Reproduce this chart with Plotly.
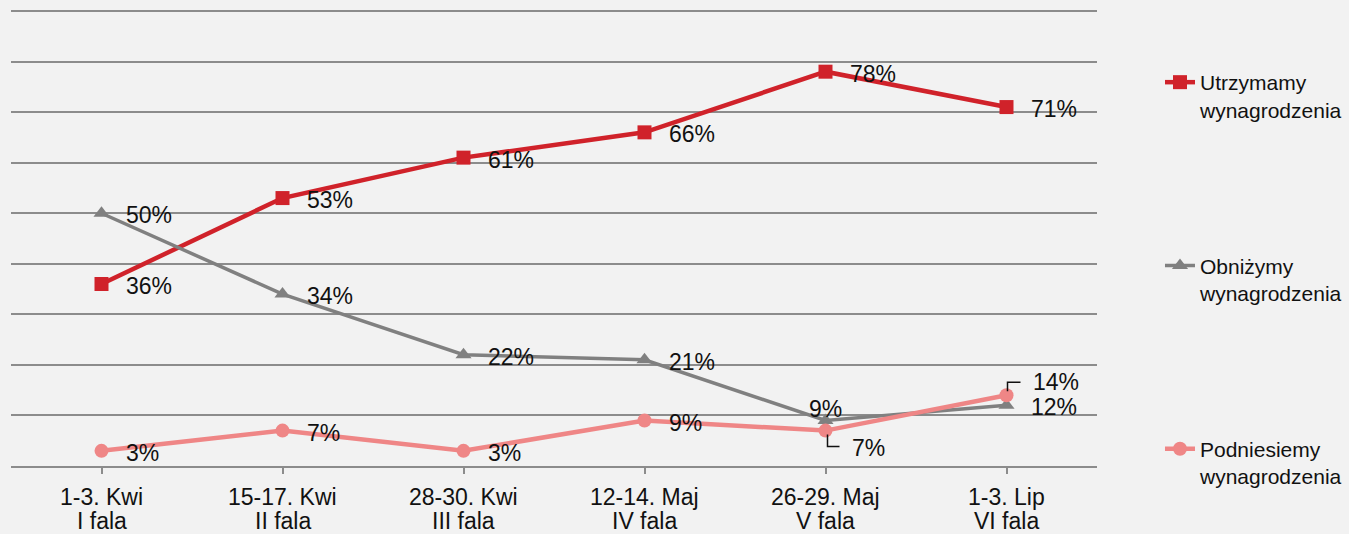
import plotly.graph_objects as go

tick_line1 = ["1-3. Kwi", "15-17. Kwi", "28-30. Kwi", "12-14. Maj", "26-29. Maj", "1-3. Lip"]
tick_line2 = ["I fala", "II fala", "III fala", "IV fala", "V fala", "VI fala"]
utrzymamy = [36, 53, 61, 66, 78, 71]
obnizymy = [50, 34, 22, 21, 9, 12]
podniesiemy = [3, 7, 3, 9, 7, 14]

names = ["Utrzymamy<br>wynagrodzenia", "Obniżymy<br>wynagrodzenia", "Podniesiemy<br>wynagrodzenia"]
series = [utrzymamy, obnizymy, podniesiemy]
colors = ["#d0222a", "#808080", "#ef8686"]
symbols = ["square", "triangle-up", "circle"]
widths = [4.5, 3.5, 4.5]
legends = ["legend", "legend2", "legend3"]

FONT = "Liberation Sans, Arial, sans-serif"
TXT = "#111111"
fig = go.Figure()
x_idx = list(range(len(tick_line1)))
for s, n, c, sym, w, lg in zip(series, names, colors, symbols, widths, legends):
    fig.add_trace(go.Scatter(x=x_idx, y=s, name=n, mode="lines+markers",
                             line=dict(color=c, width=w),
                             marker=dict(symbol=sym, size=14, color=c),
                             legend=lg, showlegend=True))

# special label offsets (series index, point index) -> (xshift, yshift, xanchor)
special = {(1, 4): (0, 12, "center"), (2, 4): (24, -17, "left"), (2, 5): (24, 13, "left")}
annotations = []
for si, s in enumerate(series):
    for i, v in enumerate(s):
        xs, ys, xa = special.get((si, i), (22, -2, "left"))
        annotations.append(dict(x=i, y=v, xref="x", yref="y", text=f"{v}%", showarrow=False,
                                xanchor=xa, yanchor="middle", xshift=xs, yshift=ys,
                                font=dict(size=23, color=TXT, family=FONT)))
for i, (l1, l2) in enumerate(zip(tick_line1, tick_line2)):
    for txt, ys in ((l1, -31), (l2, -55)):
        annotations.append(dict(x=i, y=0, xref="x", yref="paper", text=txt, showarrow=False,
                                xanchor="center", yanchor="middle", yshift=ys,
                                font=dict(size=23, color=TXT, family=FONT)))

shapes = [
    dict(type="path", xref="x", yref="y", xsizemode="pixel", ysizemode="pixel",
         xanchor=4, yanchor=podniesiemy[4], path="M2,-4 L2,-16 L14,-16",
         line=dict(color=TXT, width=1.5)),
    dict(type="path", xref="x", yref="y", xsizemode="pixel", ysizemode="pixel",
         xanchor=5, yanchor=podniesiemy[5], path="M1,4 L1,13 L14,13",
         line=dict(color=TXT, width=1.5)),
]

legend_common = dict(bgcolor="rgba(0,0,0,0)", font=dict(size=21, color=TXT, family=FONT),
                     xanchor="left", yanchor="top", valign="top", x=1.058)
fig.update_layout(
    width=1349, height=534, showlegend=True,
    margin=dict(l=11, r=252, t=9, b=68, autoexpand=False),
    paper_bgcolor="#f2f2f2", plot_bgcolor="#f2f2f2",
    font=dict(family=FONT, color=TXT),
    annotations=annotations, shapes=shapes,
    legend=dict(y=0.884, **legend_common),
    legend2=dict(y=0.483, **legend_common),
    legend3=dict(y=0.082, **legend_common),
    xaxis=dict(tickmode="array", tickvals=x_idx, range=[-0.5, 5.5], showticklabels=False,
               showgrid=False, showline=True, linecolor="#8c8c8c", linewidth=2,
               ticks="outside", ticklen=6, tickcolor="#8c8c8c", tickwidth=2,
               tickson="boundaries", zeroline=False),
    yaxis=dict(range=[0, 90.4], dtick=10, tick0=0, showticklabels=False, showgrid=True,
               gridcolor="#8c8c8c", gridwidth=2, zeroline=False, showline=False),
)
fig.write_html("out.html", config={"displayModeBar": False},
               post_script="document.body.style.margin='0';")
